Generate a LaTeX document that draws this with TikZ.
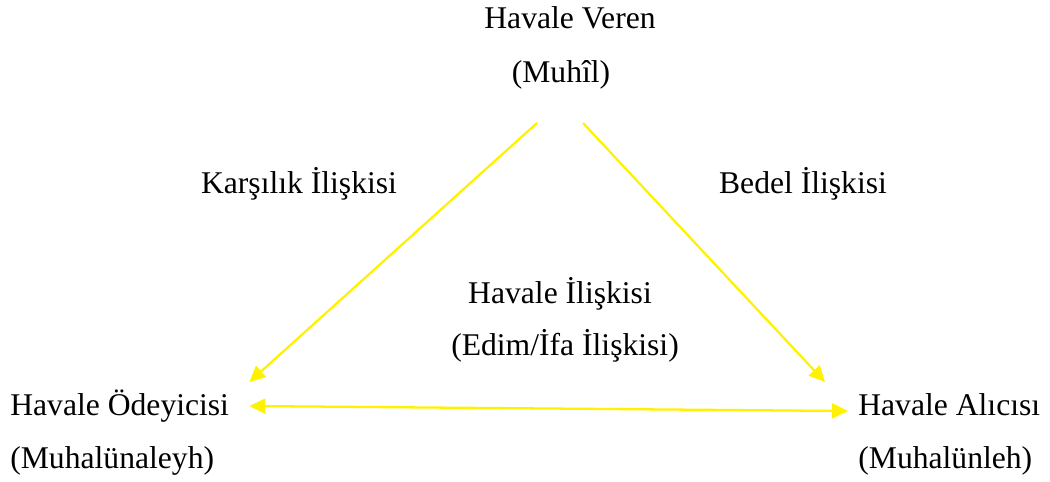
\documentclass[tikz,border=0pt]{standalone}
\usepackage{fontspec}
\setmainfont{Liberation Serif}
\usetikzlibrary{arrows.meta}
\begin{document}
\begin{tikzpicture}[x=0.02cm, y=-0.02cm,
		>={Triangle[length=0.32cm, width=0.3cm]},
		lbl/.style={inner sep=0pt, font=\fontsize{18}{22}\selectfont},
		link/.style={draw=yellow, line width=1.3pt}]
		\useasboundingbox (0,0) rectangle (1050,481);
		
		\node [lbl, anchor=base] (veren) at (570,28) {Havale Veren};
		\node [lbl, anchor=base] (muhil) at (561,82) {(Muhîl)};
		
		\node [lbl, anchor=base west] (odeyici) at (10,415) {Havale Ödeyicisi};
		\node [lbl, anchor=base west] (muhalunaleyh) at (10,468) {(Muhalünaleyh)};
		
		\node [lbl, anchor=base west] (alici) at (858,415) {Havale Alıcısı};
		\node [lbl, anchor=base west] (muhalunleh) at (858,468) {(Muhalünleh)};
		
		\node [lbl, anchor=base] (karsilik) at (299,193) {Karşılık İlişkisi};
		\node [lbl, anchor=base] (bedel) at (803,193) {Bedel İlişkisi};
		\node [lbl, anchor=base] (havale) at (560,303) {Havale İlişkisi};
		\node [lbl, anchor=base] (edim) at (565,355) {(Edim/İfa İlişkisi)};
		
		\draw [link, ->] ([shift={(-24,41)}]muhil.base) -- ([shift={(20,-33)}]odeyici.base east);
		\draw [link, ->] ([shift={(22,41)}]muhil.base) -- ([shift={(-33,-33)}]alici.base west);
		\draw [link, <->] ([shift={(20,-9)}]odeyici.base east) -- ([shift={(-10,-4)}]alici.base west); %both ends
	\end{tikzpicture}
\end{document}
